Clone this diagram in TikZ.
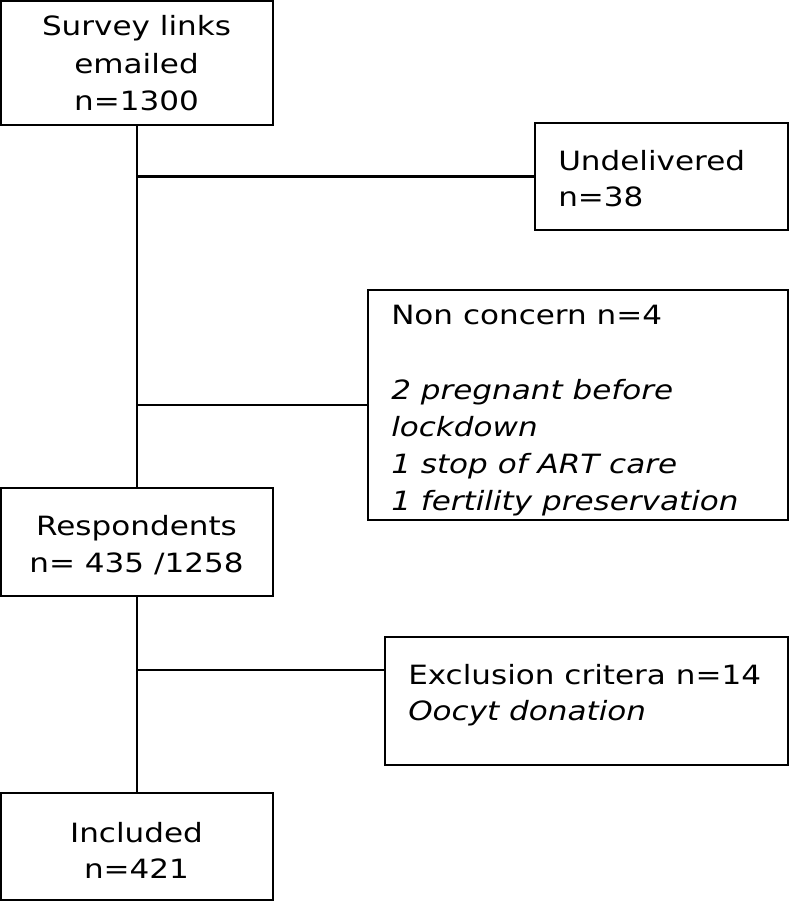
\documentclass[tikz,border=0pt]{standalone}
\usepackage{fontspec}
\setmainfont[FakeStretch=1.17]{DejaVu Sans}
\usetikzlibrary{fit}
\begin{document}
\begin{tikzpicture}[x=0.75pt,y=-0.75pt,
  box/.style={draw=black,line width=1.5pt,inner sep=0pt,rectangle},
  conn/.style={draw=black,line width=1.6pt},
  txt/.style={inner sep=0pt,font=\fontsize{19.9pt}{24pt}\selectfont},
  ctxt/.style={txt,anchor=base},
  ltxt/.style={txt,anchor=base west},
  itxt/.style={ltxt,font=\fontsize{19.9pt}{24pt}\selectfont\itshape}]
\useasboundingbox (0,0) rectangle (791,903);
% boxes
\node[box,fit={(1,1) (273,125)}] (b1) {};
\node[box,fit={(535,123) (788,230)}] (und) {};
\node[box,fit={(368,290) (788,520)}] (non) {};
\node[box,fit={(1,488) (273,596)}] (resp) {};
\node[box,fit={(385,637) (788,765)}] (exc) {};
\node[box,fit={(1,793) (273,900)}] (inc) {};
% texts
\node[ctxt] (t1a) at (136.5,36) {Survey links};
\node[ctxt] (t1b) at (136.5,73) {emailed};
\node[ctxt] (t1c) at (136.5,110) {n=1300};
\node[ltxt] (t2a) at (558,170) {Undelivered};
\node[ltxt] (t2b) at (558,206) {n=38};
\node[ltxt] (t3a) at (391,324) {Non concern n=4};
\node[itxt] (t3b) at (391,399) {2 pregnant before};
\node[itxt] (t3c) at (391,436) {lockdown};
\node[itxt] (t3d) at (391,473) {1 stop of ART care};
\node[itxt] (t3e) at (391,510) {1 fertility preservation};
\node[ctxt] (t4a) at (136.5,535) {Respondents};
\node[ctxt] (t4b) at (136.5,572) {n= 435 /1258};
\node[ltxt] (t5a) at (408,684) {Exclusion critera n=14};
\node[itxt] (t5b) at (408,720) {Oocyt donation};
\node[ctxt] (t6a) at (136.5,842) {Included};
\node[ctxt] (t6b) at (136.5,878) {n=421};
% connectors
\coordinate (e1) at (385,670);
\draw[conn] (b1.south) -- (resp.north);
\draw[conn] (resp.south) -- (inc.north);
\draw[conn] (b1.south |- und.west) -- (und.west);
\draw[conn] (b1.south |- non.west) -- (non.west);
\draw[conn] (resp.south |- e1) -- (e1);
\end{tikzpicture}
\end{document}
